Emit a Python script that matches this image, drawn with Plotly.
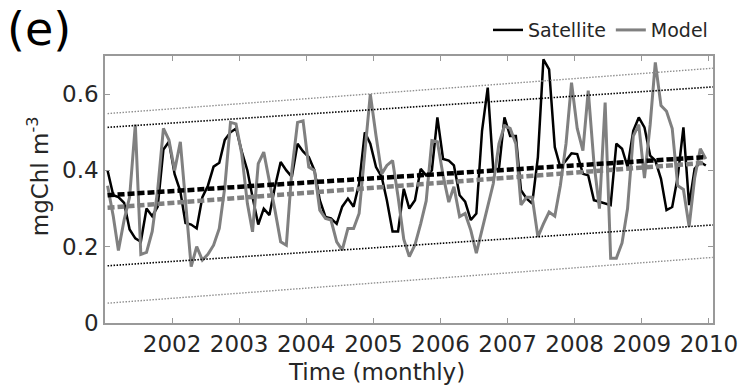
import pandas as pd
import plotly.graph_objects as go

# ---- data ----
months = pd.date_range("2001-01-01", periods=108, freq="MS") + pd.Timedelta(days=14)

satellite = [0.40, 0.335, 0.33, 0.315, 0.245, 0.222, 0.213, 0.30, 0.28, 0.305,
             0.455, 0.475, 0.39, 0.345, 0.262, 0.258, 0.248, 0.33, 0.36, 0.41,
             0.42, 0.48, 0.50, 0.51, 0.45, 0.40, 0.33, 0.258, 0.30, 0.283,
             0.357, 0.422, 0.40, 0.383, 0.47, 0.45, 0.435, 0.40, 0.322, 0.278,
             0.274, 0.26, 0.305, 0.326, 0.305, 0.365, 0.50, 0.47, 0.409, 0.383,
             0.322, 0.24, 0.24, 0.352, 0.30, 0.322, 0.404, 0.387, 0.40, 0.539,
             0.43, 0.426, 0.413, 0.335, 0.318, 0.27, 0.287, 0.504, 0.617, 0.404,
             0.404, 0.539, 0.49, 0.49, 0.348, 0.326, 0.313, 0.435, 0.691, 0.665,
             0.461, 0.409, 0.426, 0.445, 0.443, 0.391, 0.387, 0.322, 0.318, 0.313,
             0.309, 0.47, 0.457, 0.409, 0.504, 0.539, 0.513, 0.439, 0.426, 0.378,
             0.296, 0.304, 0.383, 0.513, 0.309, 0.404, 0.422, 0.413]

model = [0.36, 0.28, 0.19, 0.27, 0.33, 0.52, 0.18, 0.185, 0.24, 0.35, 0.51, 0.48,
         0.40, 0.475, 0.32, 0.148, 0.20, 0.165,
         0.18, 0.204, 0.248, 0.356, 0.526, 0.522, 0.444, 0.313, 0.239, 0.418, 0.448,
         0.374, 0.296, 0.213, 0.204, 0.40, 0.526, 0.53,
         0.409, 0.40, 0.296, 0.274, 0.27, 0.213, 0.191, 0.248, 0.248, 0.287, 0.452,
         0.60, 0.491, 0.391, 0.413, 0.426, 0.331, 0.22,
         0.174, 0.205, 0.26, 0.32, 0.478, 0.475, 0.387, 0.317, 0.357, 0.279, 0.287,
         0.243, 0.183, 0.243, 0.30, 0.365, 0.47, 0.517,
         0.51, 0.47, 0.31, 0.33, 0.33, 0.226, 0.26, 0.291, 0.28, 0.36, 0.47, 0.63,
         0.51, 0.452, 0.609, 0.42, 0.30, 0.578,
         0.17, 0.17, 0.21, 0.30, 0.49, 0.52, 0.38, 0.52, 0.683, 0.57, 0.555, 0.51,
         0.36, 0.35, 0.253, 0.38, 0.457, 0.43]

# linear trends and bounds (start value, end value)
sat_trend = [0.335, 0.435]
sat_upper = [0.513, 0.619]
sat_lower = [0.150, 0.257]
model_trend = [0.302, 0.420]
model_upper = [0.549, 0.668]
model_lower = [0.052, 0.172]
trend_x = [months[0], pd.Timestamp("2010-01-22")]

year_ticks = [pd.Timestamp(f"{y}-01-01") for y in range(2002, 2011)]
year_labels = [str(y) for y in range(2002, 2011)]
y_ticks = [0, 0.2, 0.4, 0.6]
y_labels = ["0", "0.2", "0.4", "0.6"]

BLACK = "#000000"
GRAY = "#808080"
TXT = "#262626"
FONT = "DejaVu Sans"

fig = go.Figure()
fig.add_trace(go.Scatter(x=months, y=satellite, mode="lines", name="Satellite",
                         line=dict(color=BLACK, width=2.5)))
fig.add_trace(go.Scatter(x=months, y=model, mode="lines", name="Model",
                         line=dict(color=GRAY, width=3)))

for vals, col, w in [(sat_upper, BLACK, 1.6), (sat_lower, BLACK, 1.6),
                     (model_upper, "#909090", 1.4), (model_lower, "#909090", 1.4)]:
    fig.add_trace(go.Scatter(x=trend_x, y=vals, mode="lines", showlegend=False,
                             line=dict(color=col, width=w, dash="1.5px,1.5px"),
                             hoverinfo="skip"))
fig.add_trace(go.Scatter(x=[trend_x[0], months[-1]], y=model_trend, mode="lines",
                         showlegend=False,
                         line=dict(color=GRAY, width=4.5, dash="7px,3px")))
fig.add_trace(go.Scatter(x=[trend_x[0], months[-1]], y=sat_trend, mode="lines",
                         showlegend=False,
                         line=dict(color=BLACK, width=4.5, dash="7px,3px")))

axis_common = dict(showline=True, linecolor="#999999", linewidth=1.5, mirror="ticks",
                   ticks="inside", ticklen=5, tickcolor="#999999", showgrid=False,
                   zeroline=False, automargin=False, ticklabeloverflow="allow",
                   tickfont=dict(family=FONT, size=23, color=TXT))

fig.update_xaxes(range=[pd.Timestamp("2001-01-01"), pd.Timestamp("2010-01-23")],
                 tickvals=year_ticks, ticktext=year_labels, **axis_common)
fig.update_yaxes(range=[0, 0.7], tickvals=y_ticks, ticktext=y_labels, **axis_common)

fig.update_layout(
    width=738, height=390,
    margin=dict(l=105, r=25, t=55, b=67),
    plot_bgcolor="white", paper_bgcolor="white",
    font=dict(family=FONT, color=TXT),
    showlegend=True,
    legend=dict(orientation="h", x=1.0, xanchor="right", y=1.093, yanchor="middle",
                font=dict(family=FONT, size=19, color=TXT), bgcolor="rgba(0,0,0,0)",
                itemwidth=30, tracegroupgap=0),
    annotations=[
        dict(text="(e)", xref="paper", yref="paper", x=-0.108, y=1.10,
             xanchor="center", yanchor="middle", showarrow=False,
             font=dict(family=FONT, size=46, color=BLACK)),
        dict(text="Time (monthly)", xref="paper", yref="paper", x=0.446, y=-0.183,
             xanchor="center", yanchor="middle", showarrow=False,
             font=dict(family=FONT, size=23, color=TXT)),
        dict(text="mgChl m<sup>-3</sup>", xref="paper", yref="paper", x=-0.11, y=0.55,
             xanchor="center", yanchor="middle", showarrow=False, textangle=-90,
             font=dict(family=FONT, size=23, color=TXT)),
    ],
)

fig.write_html("out.html", config={"displayModeBar": False},
               post_script="document.body.style.margin='0';")
